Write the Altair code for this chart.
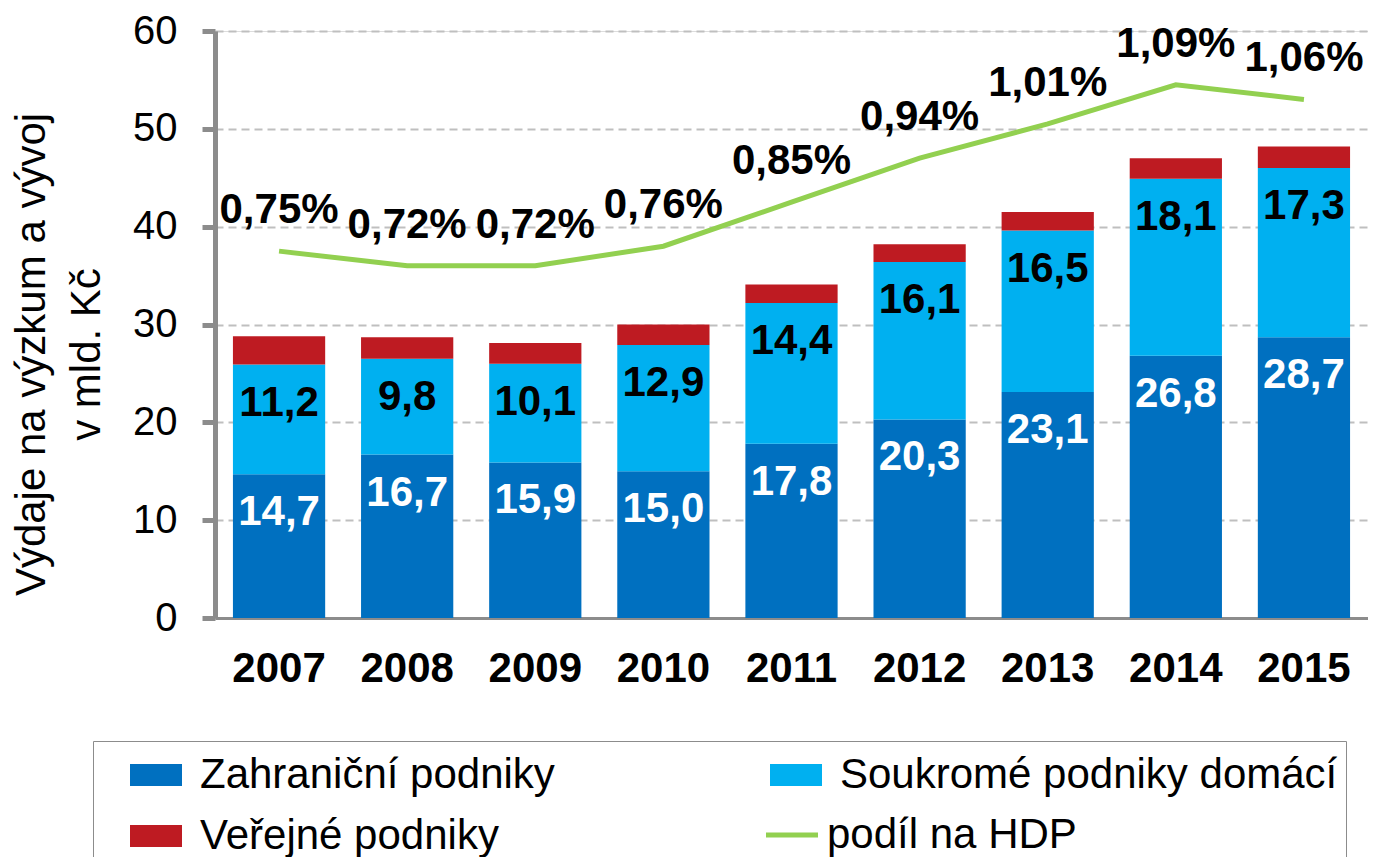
import altair as alt
import pandas as pd

years = ["2007", "2008", "2009", "2010", "2011", "2012", "2013", "2014", "2015"]
zahranicni = [14.7, 16.7, 15.9, 15.0, 17.8, 20.3, 23.1, 26.8, 28.7]
soukrome = [11.2, 9.8, 10.1, 12.9, 14.4, 16.1, 16.5, 18.1, 17.3]
verejne = [2.9, 2.2, 2.1, 2.1, 1.9, 1.8, 1.9, 2.1, 2.2]
podil_hdp = [0.75, 0.72, 0.72, 0.76, 0.85, 0.94, 1.01, 1.09, 1.06]

bar_series = ["Zahraniční podniky", "Soukromé podniky domácí", "Veřejné podniky"]
bar_colors = ["#0070C0", "#00B0F0", "#BE1B22"]
# legend is filled column by column: col 1 = Zahraniční, Veřejné; col 2 = Soukromé
legend_order = ["Zahraniční podniky", "Veřejné podniky", "Soukromé podniky domácí"]
line_series = ["podíl na HDP"]
line_colors = ["#92D050"]
y_ticks = [0, 10, 20, 30, 40, 50, 60]

rows = []
for i, yr in enumerate(years):
    for k, vals in enumerate([zahranicni, soukrome, verejne]):
        rows.append({"year": yr, "series": bar_series[k], "value": vals[i], "order": k})
bars_df = pd.DataFrame(rows)
line_df = pd.DataFrame({"year": years, "pct": podil_hdp, "series": line_series * len(years)})

FONT = "Liberation Sans"
GRAY = "#8C8C8C"

x_enc = alt.X(
    "year:N", sort=years,
    scale=alt.Scale(paddingInner=0.28, paddingOuter=0.14),
    axis=alt.Axis(title=None, labelFontSize=42, labelFontWeight="bold", labelFont=FONT,
                  labelColor="black", ticks=False, tickSize=0, domainColor=GRAY, domainWidth=3,
                  labelPadding=50, labelAngle=0, grid=False, labelBaseline="middle"),
)

bar_legend = alt.Legend(
    title=None, orient="none", legendX=-122, legendY=710, columns=2, values=legend_order,
    columnPadding=186, rowPadding=14, padding=8,
    labelFontSize=42, labelFont=FONT, labelColor="black", labelLimit=2000, labelOffset=18,
    symbolSize=2704, symbolType="M-1,-0.423H1V0.423H-1Z", symbolStrokeWidth=0, symbolOffset=29,
    strokeColor=GRAY, fillColor="white",
)
line_legend = alt.Legend(
    title=None, orient="none", legendX=548.5, legendY=775.5, padding=0,
    labelFontSize=42, labelFont=FONT, labelColor="black", labelLimit=2000, labelOffset=6.5,
    symbolSize=2704, symbolType="M-1,0H1", symbolStrokeWidth=5,
)

y_bar_scale = alt.Scale(domain=[0, 60])
bars = alt.Chart(bars_df).mark_bar().encode(
    x=x_enc,
    y=alt.Y("value:Q", stack="zero", scale=y_bar_scale,
            axis=alt.Axis(title=["Výdaje na výzkum a vývoj", "v mld. Kč"], titleFontSize=42,
                          titleFontWeight="normal", titleFont=FONT, titleColor="black",
                          titleLineHeight=55, titleBaseline="alphabetic", titleAlign="center",
                          titleAngle=270, titleX=-171, titleY=323,
                          values=y_ticks, labelFontSize=40, labelFont=FONT, labelColor="black",
                          labelPadding=25, tickSize=13, tickWidth=5, tickColor=GRAY,
                          domainColor=GRAY, domainWidth=5,
                          gridColor="#BFBFBF", gridDash=[8, 5], gridWidth=2)),
    color=alt.Color("series:N", scale=alt.Scale(domain=bar_series, range=bar_colors), legend=bar_legend),
    order=alt.Order("order:Q"),
)

bar_labels = alt.Chart(bars_df).transform_window(
    top="sum(value)", groupby=["year"], sort=[alt.SortField("order")], frame=[None, 0]
).transform_filter("datum.order < 2").transform_calculate(
    label="replace(format(datum.value, '.1f'), '.', ',')"
).mark_text(dy=38, fontSize=42, fontWeight="bold", font=FONT, baseline="middle").encode(
    x=x_enc,
    y=alt.Y("top:Q", scale=y_bar_scale),
    text="label:N",
    color=alt.condition("datum.order == 0", alt.value("white"), alt.value("black")),
)

y_line_scale = alt.Scale(domain=[0, 1.2])
line = alt.Chart(line_df).mark_line(strokeWidth=5).encode(
    x=x_enc,
    y=alt.Y("pct:Q", scale=y_line_scale, axis=None),
    stroke=alt.Stroke("series:N", scale=alt.Scale(domain=line_series, range=line_colors), legend=line_legend),
)
line_labels = alt.Chart(line_df).transform_calculate(
    label="replace(format(datum.pct, '.2f'), '.', ',') + '%'"
).mark_text(dy=-41, fontSize=42, fontWeight="bold", font=FONT, baseline="middle", color="black").encode(
    x=x_enc,
    y=alt.Y("pct:Q", scale=y_line_scale, axis=None),
    text="label:N",
)

chart = alt.layer(
    alt.layer(bars, bar_labels),
    alt.layer(line, line_labels),
).resolve_scale(y="independent").properties(
    width=1153, height=587,
    autosize=alt.AutoSizeParams(type="none"),
    padding={"left": 207, "top": 23, "right": 0, "bottom": 239},
    background="white",
).configure_view(stroke=None).configure(font=FONT)

chart.save("out.html", embed_options={"renderer": "svg", "actions": False})
